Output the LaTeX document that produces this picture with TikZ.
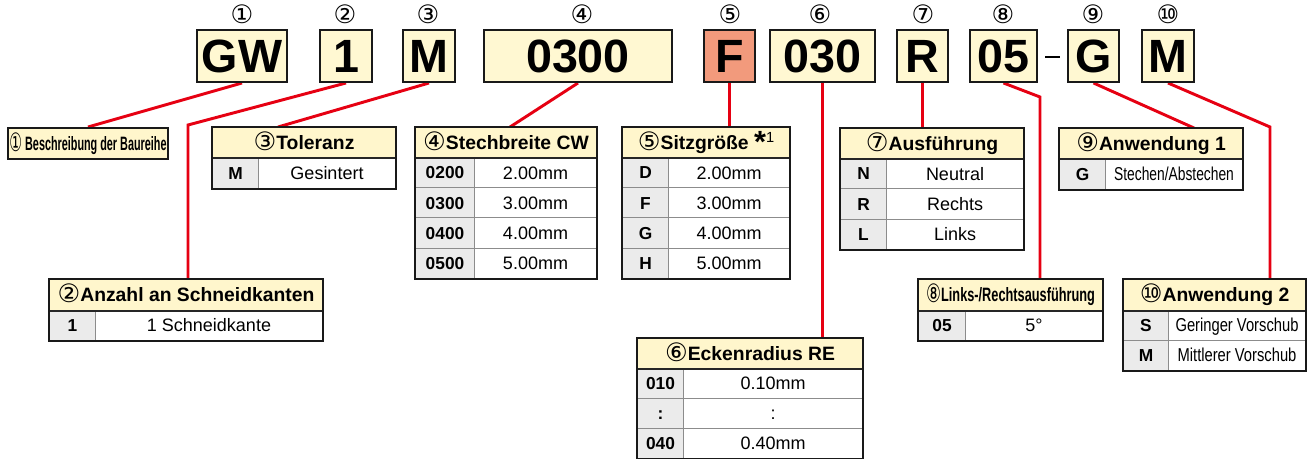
\documentclass[tikz,border=0pt]{standalone}
\usepackage{fontspec}
\usepackage{graphicx}
\setmainfont{Liberation Sans}
\newfontfamily\circfont{DejaVu Sans}
\definecolor{codefill}{HTML}{FFF8D2}
\definecolor{hdrfill}{HTML}{FFF6CC}
\definecolor{keyfill}{HTML}{EBEBEB}
\definecolor{ffill}{HTML}{F29A7C}
\definecolor{redline}{HTML}{E60012}
\pgfdeclarelayer{bg}
\pgfsetlayers{bg,main}
\tikzset{
  codebox/.style={draw=black!90, line width=1.5pt, fill=codefill, minimum height=39pt, inner sep=0pt,
    font=\fontsize{35}{35}\selectfont\bfseries},
  circnum/.style={font=\circfont\fontsize{19}{19}\selectfont, inner sep=0pt},
  hdr/.style={draw=black!80, line width=0.8pt, fill=hdrfill, inner sep=0pt,
    font=\fontsize{14.5}{15}\selectfont\bfseries, text height=10.4pt, text depth=0pt},
  keyc/.style={draw=black!45, line width=0.75pt, fill=keyfill, inner sep=0pt,
    font=\fontsize{13}{14}\selectfont\bfseries, text height=9.3pt, text depth=0pt},
  valc/.style={draw=black!45, line width=0.75pt, fill=white, inner sep=0pt,
    font=\fontsize{13.5}{14}\selectfont, text height=9.7pt, text depth=0pt},
  link/.style={draw=redline, line width=2.2pt},
  outer/.style={draw=black!90, line width=1.5pt},
}
\newcommand\thead[6]{%
  \node[hdr, minimum width=#4*0.75pt, minimum height=#5*0.75pt, anchor=north west] (#1) at (#2,#3) {#6};}
\newcommand\trow[8]{%
  \node[keyc, minimum width=#5*0.75pt, minimum height=#6*0.75pt, anchor=north west] (#1k) at (#2,#3) {#7};
  \node[valc, minimum width=(#4-#5)*0.75pt, minimum height=#6*0.75pt, anchor=north west] (#1v) at (#2+#5,#3) {#8};}
\newcommand\tframe[2]{%
  \draw[draw=black!85, line width=0.9pt] (#1.south west) -- (#1.south east);
  \draw[outer] (#1.north west) rectangle (#2.south east);}
\newcommand\cn[1]{{\circfont\mdseries\fontsize{19}{19}\selectfont\raisebox{-0.5pt}{#1}}}
\newcommand\nar[2]{\scalebox{#1}[1]{#2}}
\begin{document}
\begin{tikzpicture}[x=0.75pt,y=-0.75pt]
\useasboundingbox (0,0) rectangle (1312,459);

% code boxes
\node[codebox, minimum width=67.5pt] (c1) at (242,56) {GW};
\node[codebox, minimum width=39pt] (c2) at (346,56) {1};
\node[codebox, minimum width=39pt] (c3) at (429,56) {M};
\node[codebox, minimum width=141pt] (c4) at (578,56) {0300};
\node[codebox, minimum width=38.25pt, fill=ffill] (c5) at (729.5,56) {F};
\node[codebox, minimum width=78.75pt] (c6) at (822.5,56) {030};
\node[codebox, minimum width=38.25pt] (c7) at (922.5,56) {R};
\node[codebox, minimum width=50.25pt] (c8) at (1003.5,56) {05};
\node[inner sep=0pt] (dash) at (1052.5,57) {\rule{11pt}{1.1pt}};
\node[codebox, minimum width=38.25pt] (c9) at (1093.5,56) {G};
\node[codebox, minimum width=39pt] (c10) at (1168,56) {M};

% circled numbers
\node[circnum] (n1) at (242,14) {①};
\node[circnum] (n2) at (345,14) {②};
\node[circnum] (n3) at (428,14) {③};
\node[circnum] (n4) at (582,14) {④};
\node[circnum] (n5) at (730,14) {⑤};
\node[circnum] (n6) at (820,14) {⑥};
\node[circnum] (n7) at (923,14) {⑦};
\node[circnum] (n8) at (1003,14) {⑧};
\node[circnum] (n9) at (1093,14) {⑨};
\node[circnum] (n10) at (1168,14) {⑩};

% table 1
\node[hdr, draw=black!90, line width=1.5pt, minimum width=120pt, minimum height=23.25pt, anchor=north west] (T1) at (7,127)
  {\nar{0.56}{\cn{①} Beschreibung der Baureihe}};

% table 2
\thead{T2}{49}{279}{273}{31}{\cn{②}Anzahl an Schneidkanten}
\trow{T2a}{49}{310}{273}{46}{30}{1}{1 Schneidkante}
\tframe{T2}{T2av}

% table 3
\thead{T3}{212}{127}{183}{30}{\cn{③}Toleranz}
\trow{T3a}{212}{157}{183}{46}{31}{M}{Gesintert}
\tframe{T3}{T3av}

% table 4
\thead{T4}{415}{127}{181}{30}{\cn{④}Stechbreite CW}
\trow{T4a}{415}{157}{181}{59}{30.25}{0200}{2.00mm}
\trow{T4b}{415}{187.25}{181}{59}{30.25}{0300}{3.00mm}
\trow{T4c}{415}{217.5}{181}{59}{30.25}{0400}{4.00mm}
\trow{T4d}{415}{247.75}{181}{59}{30.25}{0500}{5.00mm}
\tframe{T4}{T4dv}

% table 5
\thead{T5}{622}{127}{167}{30}{\cn{⑤}Sitzgröße \raisebox{-2.5pt}{\fontsize{23}{23}\selectfont *}\raisebox{5pt}{\fontsize{11}{11}\selectfont\mdseries 1}}
\trow{T5a}{622}{157}{167}{46}{30.25}{D}{2.00mm}
\trow{T5b}{622}{187.25}{167}{46}{30.25}{F}{3.00mm}
\trow{T5c}{622}{217.5}{167}{46}{30.25}{G}{4.00mm}
\trow{T5d}{622}{247.75}{167}{46}{30.25}{H}{5.00mm}
\tframe{T5}{T5dv}

% table 6
\thead{T6}{637}{338}{225}{30}{\cn{⑥}Eckenradius RE}
\trow{T6a}{637}{368}{225}{46}{30}{010}{0.10mm}
\trow{T6b}{637}{398}{225}{46}{30}{:}{:}
\trow{T6c}{637}{428}{225}{46}{30}{040}{0.40mm}
\tframe{T6}{T6cv}

% table 7
\thead{T7}{840}{128}{183}{30}{\cn{⑦}Ausführung}
\trow{T7a}{840}{158}{183}{46}{30.3}{N}{Neutral}
\trow{T7b}{840}{188.3}{183}{46}{30.3}{R}{Rechts}
\trow{T7c}{840}{218.6}{183}{46}{30.3}{L}{Links}
\tframe{T7}{T7cv}

% table 8
\thead{T8}{918}{279}{184}{31}{\nar{0.66}{\cn{⑧}Links-/Rechtsausführung}}
\trow{T8a}{918}{310}{184}{47}{30}{05}{5°}
\tframe{T8}{T8av}

% table 9
\thead{T9}{1059}{128}{183}{30}{\cn{⑨}Anwendung 1}
\trow{T9a}{1059}{158}{183}{46}{31}{G}{\fontsize{14}{14}\selectfont\nar{0.74}{Stechen/Abstechen}}
\tframe{T9}{T9av}

% table 10
\thead{T10}{1123}{279}{182}{31}{\cn{⑩}Anwendung 2}
\trow{T10a}{1123}{310}{182}{45}{30}{S}{\fontsize{14}{14}\selectfont\nar{0.79}{Geringer Vorschub}}
\trow{T10b}{1123}{340}{182}{45}{30}{M}{\fontsize{14}{14}\selectfont\nar{0.79}{Mittlerer Vorschub}}
\tframe{T10}{T10bv}

% connectors
\coordinate (k2) at (188,125);
\coordinate (k8) at (1040,97);
\coordinate (k10) at (1270,127);
\begin{pgfonlayer}{bg}
\draw[link] (c1.south) -- (T1.north);
\draw[link] (c2.south) -- (k2) -- (k2 |- T2.north);
\draw[link] (c3.south) -- ([xshift=49.5pt]T3.north west);
\draw[link] (c4.south) -- ([xshift=71.25pt]T4.north west);
\draw[link] (c5.south) -- (c5.south |- T5.north);
\draw[link] (c6.south) -- (c6.south |- T6.north);
\draw[link] (c7.south) -- (c7.south |- T7.north);
\draw[link] (c8.south) -- (k8) -- (k8 |- T8.north);
\draw[link] (c9.south) -- ([xshift=101.25pt]T9.north west);
\draw[link] (c10.south) -- (k10) -- (k10 |- T10.north);
\end{pgfonlayer}
\end{tikzpicture}
\end{document}
